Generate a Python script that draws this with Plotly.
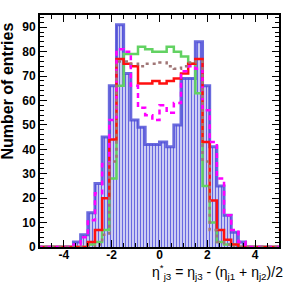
import plotly.graph_objects as go

# ---- data ----
bin_edges = [-5.1, -4.8, -4.5, -4.2, -3.9, -3.6, -3.3, -3.0, -2.7, -2.4, -2.1, -1.8,
             -1.5, -1.2, -0.9, -0.6, -0.3, 0.0, 0.3, 0.6, 0.9, 1.2, 1.5, 1.8, 2.1,
             2.4, 2.7, 3.0, 3.3, 3.6, 3.9, 4.2, 4.5, 4.8, 5.1]

blue_counts = [0, 0, 0, 0, 0, 2, 5, 14, 26, 45, 66, 91, 71, 52, 49, 42, 42, 43, 41,
               50, 69, 69, 84, 66, 41, 25, 13, 6, 2, 0, 0, 0, 0, 0]
green_counts = [0, 0, 0, 0, 0, 0, 0, 1, 2, 7, 28, 66, 79, 79, 82, 81, 80, 80, 82,
                80, 78, 75, 63, 25, 10, 2, 1, 1, 0, 0, 0, 0, 0, 0]
red_counts = [0, 0, 0, 0, 0, 0, 0, 2, 7, 20, 44, 77, 75, 74, 67, 67, 68, 67, 68,
              69, 71, 75, 77, 43, 19, 7, 3, 1, 0, 0, 0, 0, 0, 0]
magenta_counts = [0, 0, 0, 0, 0, 1, 4, 11, 22, 34, 52, 81, 80, 66, 57, 54, 52, 58, 55,
                  59, 72, 74, 73, 56, 43, 28, 13, 7, 2, 0, 0, 0, 0, 0]
brown_counts = [0, 0, 0, 0, 0, 0, 0, 0, 1, 5, 35, 76, 76, 75, 74, 75, 75, 75.5, 74,
                73, 74, 75.5, 76, 35, 7, 2, 1, 0, 0, 0, 0, 0, 0, 0]

x_tick_vals = [-4, -2, 0, 2, 4]
x_tick_text = ["-4", "-2", "0", "2", "4"]
y_tick_vals = [0, 10, 20, 30, 40, 50, 60, 70, 80, 90]
y_tick_text = ["0", "10", "20", "30", "40", "50", "60", "70", "80", "90"]

x_title = "η<sup>*</sup><sub>j3</sub> = η<sub>j3</sub> - (η<sub>j1</sub> + η<sub>j2</sub>)/2"
y_title = "Number of entries"

# ---- build figure ----
centers = [(a + b) / 2 for a, b in zip(bin_edges[:-1], bin_edges[1:])]
widths = [b - a for a, b in zip(bin_edges[:-1], bin_edges[1:])]


def step_y(vals):
    return list(vals) + [vals[-1]]


fig = go.Figure()

fig.add_trace(go.Bar(
    x=centers, y=blue_counts, width=widths,
    marker=dict(color="#d6d6f6", line=dict(width=0),
                pattern=dict(shape="|", fgcolor="#6666e0", bgcolor="#d6d6f6",
                             size=3, solidity=0.4, fillmode="replace")),
    hoverinfo="skip"))

fig.add_trace(go.Scatter(x=bin_edges, y=step_y(blue_counts), mode="lines",
                         line=dict(shape="hv", color="rgba(80,80,215,0.85)", width=3)))
fig.add_trace(go.Scatter(x=bin_edges, y=step_y(green_counts), mode="lines",
                         line=dict(shape="hv", color="#62d262", width=2.5)))
fig.add_trace(go.Scatter(x=bin_edges, y=step_y(red_counts), mode="lines",
                         line=dict(shape="hv", color="#ff1010", width=2.5)))
fig.add_trace(go.Scatter(x=bin_edges, y=step_y(magenta_counts), mode="lines",
                         line=dict(shape="hv", color="#ff00ff", width=2.5, dash="5px,4px")))
fig.add_trace(go.Scatter(x=bin_edges, y=step_y(brown_counts), mode="lines",
                         line=dict(shape="hv", color="#a07676", width=2.5, dash="3px,4px")))

tickfont = dict(family="Liberation Sans, Arial", size=12, color="black", weight="bold")

fig.update_layout(
    width=296, height=284,
    margin=dict(l=40, r=17, t=15, b=37),
    paper_bgcolor="white", plot_bgcolor="white",
    showlegend=False, bargap=0,
    font=dict(family="Liberation Sans, Arial", size=12, color="black"),
    xaxis=dict(range=[-5, 5], tickmode="array", tickvals=x_tick_vals, ticktext=x_tick_text,
               ticks="inside", ticklen=7, tickwidth=1.2, tickcolor="black",
               showline=True, linecolor="black", linewidth=2, mirror="ticks",
               showgrid=False, zeroline=False, tickfont=tickfont, ticklabelstandoff=-4,
               minor=dict(ticks="inside", ticklen=4, tickwidth=1, tickcolor="black",
                          tickmode="linear", tick0=0, dtick=0.5, showgrid=False)),
    yaxis=dict(range=[0, 95], tickmode="array", tickvals=y_tick_vals, ticktext=y_tick_text,
               ticks="inside", ticklen=7, tickwidth=1.2, tickcolor="black",
               showline=True, linecolor="black", linewidth=2, mirror="ticks",
               showgrid=False, zeroline=False, tickfont=tickfont,
               minor=dict(ticks="inside", ticklen=4, tickwidth=1, tickcolor="black",
                          tickmode="linear", tick0=0, dtick=2, showgrid=False)),
    annotations=[
        dict(text=y_title, textangle=-90, xref="paper", yref="paper",
             x=0, xshift=-32, y=0.67, xanchor="center", yanchor="middle",
             showarrow=False,
             font=dict(family="Liberation Sans, Arial", size=16, color="black", weight="bold")),
        dict(text=x_title, xref="paper", yref="paper", x=1, xshift=6, y=0, yshift=-25,
             xanchor="right", yanchor="middle", showarrow=False,
             font=dict(family="Liberation Sans, Arial", size=14, color="black")),
    ],
)

fig.write_html("out.html", config={"displayModeBar": False},
               post_script="document.body.style.margin='0px';document.body.style.overflow='hidden';")
